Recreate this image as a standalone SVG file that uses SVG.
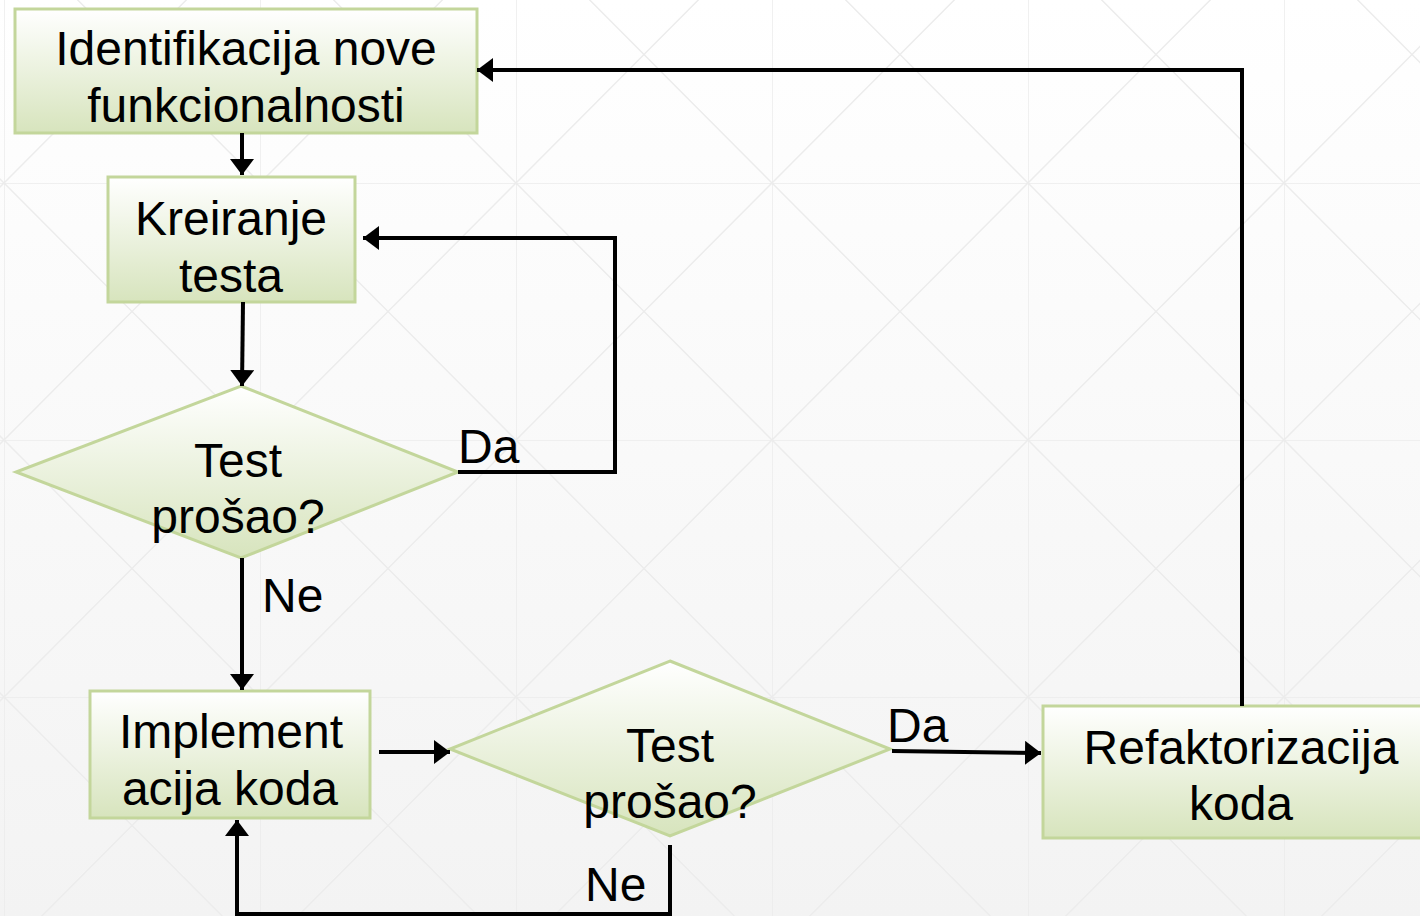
<svg xmlns="http://www.w3.org/2000/svg" width="1420" height="916" viewBox="0 0 1420 916">
  <defs>
    <linearGradient id="bg" x1="0" y1="0" x2="0" y2="1">
      <stop offset="0" stop-color="#ffffff"/>
      <stop offset="1" stop-color="#f3f3f3"/>
    </linearGradient>
    <linearGradient id="nodeFill" x1="0" y1="0" x2="0" y2="1">
      <stop offset="0" stop-color="#ffffff"/>
      <stop offset="1" stop-color="#d7e4bd"/>
    </linearGradient>
    <pattern id="grid" x="4" y="-74" width="256" height="257" patternUnits="userSpaceOnUse">
      <path d="M0,0 V257 M0,0 H256 M0,0 L256,257 M256,0 L0,257" fill="none" stroke="#ececec" stroke-width="1.5"/>
    </pattern>
    <marker id="arrow" markerUnits="userSpaceOnUse" markerWidth="17" markerHeight="24" refX="16" refY="12" orient="auto">
      <path d="M0,0 L16,12 L0,24 Z" fill="#000"/>
    </marker>
  </defs>
  <style>
    .box { fill: url(#nodeFill); stroke: #c3d69b; stroke-width: 3; }
    .lbl { font-family: "Liberation Sans", Arial, sans-serif; font-size: 48px; fill: #000; text-anchor: middle; }
    .edge { font-family: "Liberation Sans", Arial, sans-serif; font-size: 48px; fill: #000; }
    .conn { fill: none; stroke: #000; stroke-width: 4; }
    .arr { marker-end: url(#arrow); }
  </style>

  <!-- background -->
  <rect x="0" y="0" width="1420" height="916" fill="url(#bg)"/>
  <rect x="0" y="0" width="1420" height="916" fill="url(#grid)"/>

  <!-- nodes -->
  <g id="identifikacija">
    <rect class="box" x="15" y="9" width="462" height="124"/>
    <text class="lbl" x="246" y="65">Identifikacija nove</text>
    <text class="lbl" x="246" y="122">funkcionalnosti</text>
  </g>
  <g id="kreiranje">
    <rect class="box" x="108" y="177" width="247" height="125"/>
    <text class="lbl" x="231" y="235">Kreiranje</text>
    <text class="lbl" x="231" y="292">testa</text>
  </g>
  <g id="test1">
    <polygon class="box" points="241,386 458,472 241,558 16,472"/>
    <text class="lbl" x="238" y="477">Test</text>
    <text class="lbl" x="238" y="533">prošao?</text>
  </g>
  <g id="implementacija">
    <rect class="box" x="90" y="691" width="280" height="127"/>
    <text class="lbl" x="231" y="748">Implement</text>
    <text class="lbl" x="230" y="805">acija koda</text>
  </g>
  <g id="test2">
    <polygon class="box" points="670,661 890,749 670,836 450,749"/>
    <text class="lbl" x="670" y="762">Test</text>
    <text class="lbl" x="670" y="818">prošao?</text>
  </g>
  <g id="refaktorizacija">
    <rect class="box" x="1043" y="706" width="400" height="132"/>
    <text class="lbl" x="1241" y="764">Refaktorizacija</text>
    <text class="lbl" x="1241" y="820">koda</text>
  </g>

  <!-- connectors -->
  <g id="connectors">
    <path class="conn arr" d="M242,133 V175"/>
    <path class="conn arr" d="M243,302 L242,386"/>
    <path class="conn arr" d="M458,472 H615 V238 H363"/>
    <path class="conn arr" d="M242,558 V690"/>
    <path class="conn arr" d="M379,752 H450"/>
    <path class="conn arr" d="M892,751 L1041,753"/>
    <path class="conn arr" d="M1242,706 V70 H477"/>
    <path class="conn arr" d="M670,845 V914 H237 V820"/>
    <text class="edge" x="458" y="463">Da</text>
    <text class="edge" x="262" y="612">Ne</text>
    <text class="edge" x="887" y="742">Da</text>
    <text class="edge" x="585" y="901">Ne</text>
  </g>
</svg>
